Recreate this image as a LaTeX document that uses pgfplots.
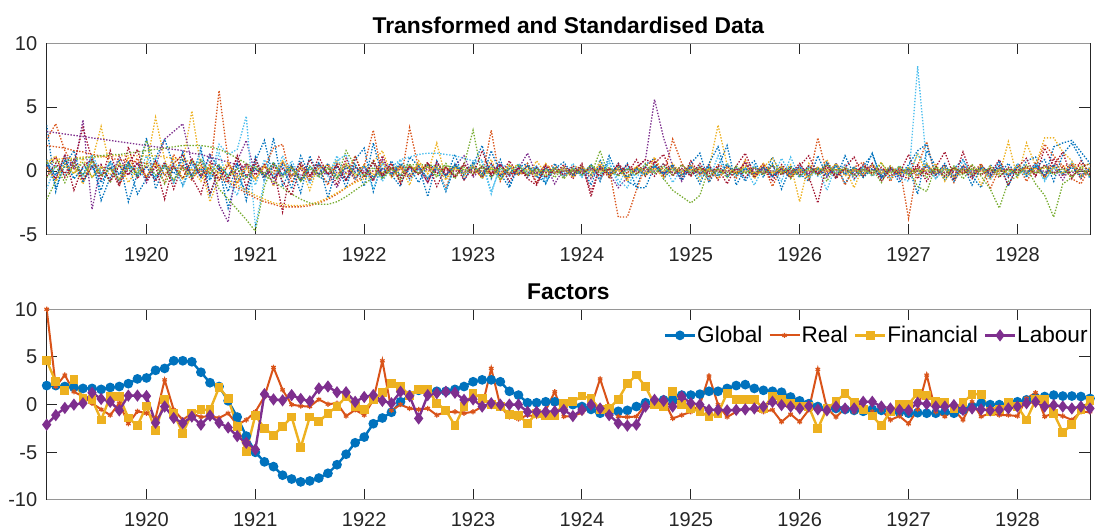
\documentclass[border=0pt]{standalone}
\usepackage{fontspec}
\setmainfont{Liberation Sans}
\usepackage{pgfplots}
\usepackage{pgfplotstable}
\pgfplotsset{compat=1.18}
\definecolor{mB}{RGB}{0,114,189}
\definecolor{mO}{RGB}{217,83,25}
\definecolor{mY}{RGB}{237,177,32}
\definecolor{mP}{RGB}{126,47,142}
\definecolor{mG}{RGB}{119,172,48}
\definecolor{mL}{RGB}{77,190,238}
\definecolor{mR}{RGB}{162,20,47}
\definecolor{axgray}{RGB}{38,38,38}
\definecolor{boxgray}{RGB}{150,150,150}

% ---------- top panel series (monthly, Feb 1919 - Sep 1928) ----------
\pgfplotstableread[header=false,row sep=\\]{
3.6\\ -1.6\\ 0.8\\ 0.4\\ -0.3\\ 1.2\\ -2.3\\ -0.5\\ 0.9\\ -2.4\\ -0.2\\
2.6\\ -1.4\\ 0.4\\ -0.9\\ 1.5\\ -0.6\\ 1.8\\ -1.9\\ 0.2\\ -2.9\\ -0.4\\ -1.6\\
1.1\\ -0.8\\ 2.6\\ -1.2\\ 0.3\\ -1.7\\ 1.2\\ -0.4\\ -0.9\\ 0.6\\ -1.3\\ 0.9\\
1.8\\ -1.6\\ 0.7\\ -0.3\\ -1.2\\ 1.1\\ 0.4\\ -2.0\\ 0.8\\ -0.5\\ 1.3\\ -0.7\\
0.5\\ 2.0\\ -0.6\\ 0.9\\ -1.1\\ 0.3\\ 0.6\\ -0.4\\ -0.9\\ 0.2\\ 0.7\\ -0.3\\
0.4\\ -1.1\\ 0.9\\ -0.5\\ 0.6\\ -0.8\\ -1.2\\ 0.5\\ 1.0\\ -0.6\\ 0.3\\ -0.4\\
0.6\\ 1.4\\ -0.9\\ 0.3\\ 2.0\\ -1.1\\ 0.2\\ 0.8\\ -0.5\\ 1.1\\ -0.3\\ 0.4\\
-0.2\\ -0.8\\ 1.2\\ -0.4\\ 0.6\\ -1.0\\ 0.3\\ -0.2\\ 1.4\\ -0.6\\ 0.2\\ -0.9\\
0.3\\ -1.8\\ 1.6\\ 0.4\\ -0.7\\ 0.2\\ 0.9\\ -0.4\\ -1.3\\ 0.5\\ -0.2\\ 0.6\\
-0.4\\ 0.8\\ 1.1\\ -0.6\\ 1.9\\ 2.2\\ 2.4\\ 1.5\\ 0.6\\
}\sA
\pgfplotstableread[header=false,row sep=\\]{
2.5\\ 3.7\\ 1.6\\ 0.4\\ -0.8\\ 0.9\\ -0.3\\ 0.6\\ -1.1\\ 0.2\\ 1.0\\
-0.5\\ 0.7\\ -0.9\\ 1.3\\ 0.1\\ -0.7\\ 0.4\\ -0.2\\ 6.3\\ 0.8\\ -1.0\\ 0.5\\
-0.6\\ 0.3\\ 1.8\\ 2.1\\ -0.9\\ 0.5\\ -0.4\\ 0.2\\ -1.1\\ 0.6\\ 0.3\\ -0.7\\
0.4\\ 3.2\\ -0.4\\ 0.6\\ -0.9\\ 3.4\\ 0.2\\ -0.6\\ 0.3\\ -1.3\\ 0.5\\ -0.2\\
0.3\\ -0.5\\ 3.2\\ -0.8\\ 0.4\\ -0.3\\ 0.6\\ -0.9\\ 0.2\\ 0.5\\ -0.4\\ 0.1\\
-0.3\\ 0.5\\ -0.6\\ 0.2\\ -3.6\\ -3.6\\ -1.5\\ 0.4\\ 0.9\\ -0.5\\ 2.5\\ 0.6\\
-0.4\\ 0.3\\ -0.8\\ 0.5\\ 0.2\\ -0.6\\ 0.9\\ -0.3\\ 0.4\\ -1.2\\ 0.3\\ -0.5\\
0.2\\ -0.7\\ 2.6\\ -0.2\\ 0.5\\ -1.1\\ 0.3\\ 0.7\\ -0.4\\ 0.2\\ -0.8\\ 0.4\\
-3.7\\ 0.4\\ 2.3\\ -0.6\\ 0.3\\ -0.9\\ 0.5\\ -0.2\\ 0.6\\ -1.4\\ 0.2\\ -0.3\\
0.5\\ -0.8\\ 0.3\\ 2.1\\ 1.2\\ 0.4\\ -0.6\\ -1.0\\ 0.3\\
}\sB
\pgfplotstableread[header=false,row sep=\\]{
0.6\\ 1.2\\ -0.4\\ 0.3\\ -1.0\\ 0.8\\ 3.5\\ 0.2\\ -0.6\\ 1.1\\ -0.3\\
0.5\\ 4.2\\ 0.9\\ -0.8\\ 0.6\\ 4.7\\ 0.3\\ -2.4\\ -0.5\\ 0.4\\ -0.9\\ 0.2\\
-0.7\\ 0.5\\ -1.2\\ 0.8\\ -0.4\\ 0.3\\ -1.5\\ 0.6\\ -0.2\\ 0.9\\ -0.3\\ 1.2\\
-0.5\\ 0.7\\ 1.6\\ -0.3\\ 0.4\\ -1.1\\ 0.8\\ -0.2\\ 2.2\\ -0.6\\ 0.3\\ -0.4\\
0.6\\ -0.3\\ 0.9\\ -0.7\\ 0.2\\ 0.5\\ -0.4\\ 0.8\\ -0.2\\ 0.3\\ -0.6\\ 0.4\\
0.2\\ -0.5\\ 0.7\\ -0.3\\ 0.4\\ -0.8\\ 0.3\\ -0.4\\ 1.1\\ -0.2\\ 0.6\\ -0.3\\
0.4\\ -0.7\\ 0.2\\ 3.6\\ 0.5\\ -0.4\\ 0.8\\ -0.6\\ 0.3\\ 1.0\\ -0.2\\ 0.5\\
-2.4\\ 0.6\\ -0.3\\ 0.9\\ -0.5\\ 0.2\\ -1.3\\ 0.4\\ -0.2\\ 0.7\\ -0.6\\ 0.3\\
-0.5\\ 1.4\\ -0.3\\ 0.6\\ -0.8\\ 0.3\\ -0.2\\ 0.5\\ -1.1\\ 0.4\\ -0.3\\ 2.3\\
-0.6\\ 2.2\\ 0.4\\ 2.6\\ 2.6\\ 1.5\\ 0.8\\ -0.5\\ 0.2\\
}\sC
\pgfplotstableread[header=false,row sep=\\]{
0.4\\ -0.6\\ 1.3\\ 0.2\\ 4.0\\ -3.0\\ 0.5\\ -0.8\\ 1.2\\ -0.3\\ 0.7\\
-0.9\\ 0.4\\ 2.5\\ 3.1\\ 3.7\\ 0.6\\ -0.5\\ 1.4\\ -2.6\\ -4.0\\ 0.8\\ 2.4\\
-0.3\\ 0.5\\ -1.1\\ 0.7\\ -0.4\\ 0.2\\ -0.8\\ 0.6\\ -0.2\\ -1.3\\ 0.4\\ -0.6\\
0.3\\ -0.7\\ 0.9\\ -0.2\\ 0.5\\ -0.4\\ 0.2\\ -0.9\\ 0.6\\ -0.3\\ 0.4\\ 1.2\\
-0.5\\ 0.3\\ -0.2\\ 0.6\\ -0.4\\ 0.2\\ 1.4\\ -0.3\\ 0.5\\ -1.0\\ 0.2\\ -0.4\\
0.3\\ -0.6\\ 0.4\\ -0.2\\ -1.3\\ -0.5\\ 0.2\\ 0.9\\ 5.6\\ 2.6\\ 0.4\\ -0.8\\
0.5\\ -0.3\\ 0.2\\ -0.6\\ 0.4\\ -0.2\\ 0.7\\ -0.4\\ 0.3\\ -0.5\\ 0.2\\ -0.3\\
0.4\\ -0.2\\ 0.3\\ -0.5\\ 0.6\\ -0.3\\ 0.2\\ -0.4\\ 0.5\\ -0.2\\ 0.3\\ -0.6\\
0.2\\ -0.4\\ 0.5\\ -0.3\\ 0.2\\ -0.6\\ 0.4\\ -0.2\\ 0.3\\ -0.5\\ 0.2\\ -0.3\\
0.4\\ -0.2\\ 0.6\\ -0.4\\ 0.3\\ -0.7\\ 0.5\\ -0.3\\ 0.2\\
}\sD
\pgfplotstableread[header=false,row sep=\\]{
-2.2\\ -0.8\\ 0.4\\ -0.2\\ 0.7\\ -0.5\\ 0.3\\ -0.9\\ 0.6\\ 0.1\\ -0.4\\
2.4\\ 0.5\\ -1.0\\ 0.3\\ -0.6\\ 0.9\\ -0.2\\ 0.4\\ -1.4\\ -2.2\\ -3.0\\ -3.8\\
-4.7\\ -1.2\\ 0.6\\ -0.3\\ 0.4\\ -0.8\\ 0.2\\ -0.5\\ 0.3\\ -0.6\\ 1.6\\ 0.4\\
-0.3\\ 0.8\\ -0.5\\ 0.2\\ -0.7\\ 0.4\\ -0.2\\ 0.6\\ -0.4\\ 0.3\\ -0.6\\ 0.5\\
3.2\\ -0.4\\ 0.3\\ -0.7\\ 0.5\\ -0.2\\ 0.4\\ -0.3\\ 0.2\\ -0.5\\ 0.3\\ -0.2\\
0.4\\ -0.3\\ 1.6\\ -0.5\\ 0.2\\ -0.4\\ 0.3\\ -0.2\\ 0.5\\ -0.6\\ -1.5\\ -2.0\\
-2.5\\ -1.9\\ 0.3\\ -0.4\\ 0.6\\ -0.2\\ 0.3\\ -0.5\\ 0.2\\ -0.3\\ 0.4\\ -0.6\\
0.2\\ -0.4\\ 0.3\\ -0.8\\ 0.5\\ -0.2\\ 0.3\\ -0.5\\ 0.2\\ -0.9\\ 0.4\\ -0.3\\
0.2\\ -1.2\\ -1.6\\ 0.4\\ -0.5\\ 0.3\\ -0.6\\ 0.2\\ -0.4\\ -1.4\\ -2.9\\ -0.8\\
-0.4\\ 0.3\\ -1.0\\ -1.9\\ -3.6\\ -1.0\\ -0.5\\ 0.3\\ 0.6\\
}\sE
\pgfplotstableread[header=false,row sep=\\]{
0.8\\ -0.4\\ 1.1\\ -0.6\\ 0.3\\ 0.9\\ -0.2\\ 0.6\\ -0.8\\ 0.4\\ -0.3\\
1.2\\ -0.5\\ 0.7\\ -0.9\\ 0.4\\ -0.3\\ 1.5\\ -0.6\\ 2.1\\ 1.3\\ 1.7\\ 4.3\\
-4.4\\ -0.7\\ 0.5\\ -0.3\\ 0.8\\ -0.5\\ 0.2\\ 0.6\\ -0.4\\ 1.2\\ -0.6\\ 0.3\\
-0.4\\ 0.6\\ -0.8\\ 0.3\\ 0.9\\ 1.1\\ 1.3\\ 1.4\\ 1.4\\ 1.3\\ 1.2\\ 1.0\\
0.8\\ 0.7\\ -1.8\\ 0.5\\ 0.3\\ 0.1\\ -0.3\\ 0.4\\ -0.6\\ 0.2\\ -0.2\\ 0.3\\
-0.5\\ 0.4\\ -0.3\\ 0.6\\ -0.7\\ -1.3\\ 0.2\\ -0.4\\ 0.5\\ -0.3\\ 0.2\\ -0.6\\
0.3\\ -0.5\\ 0.4\\ -0.2\\ 0.6\\ -0.4\\ 0.2\\ -1.1\\ 0.3\\ -0.5\\ 1.0\\ -0.3\\
0.4\\ -0.6\\ 0.2\\ -1.5\\ 0.5\\ -0.3\\ 0.2\\ -0.4\\ 0.6\\ -0.2\\ 0.3\\ -0.5\\
-0.8\\ 8.2\\ 0.5\\ -0.6\\ 0.3\\ -0.4\\ 0.2\\ -0.5\\ 0.4\\ -0.3\\ 0.6\\ -0.2\\
0.3\\ -0.5\\ 0.4\\ -0.7\\ 0.2\\ -0.3\\ 0.5\\ -0.4\\ 0.2\\
}\sF
\pgfplotstableread[header=false,row sep=\\]{
0.2\\ 1.1\\ -0.5\\ 0.6\\ 3.4\\ 0.9\\ -0.4\\ 0.3\\ -1.2\\ 1.9\\ -0.6\\
0.4\\ -0.8\\ 0.7\\ -1.4\\ 0.5\\ -0.3\\ 0.8\\ -1.8\\ 0.3\\ -0.6\\ 1.1\\ -0.4\\
0.6\\ -0.5\\ 0.3\\ -3.2\\ 0.4\\ -0.7\\ 0.9\\ -0.3\\ 0.5\\ -1.1\\ 1.0\\ -0.6\\
0.5\\ -0.8\\ 1.2\\ -0.4\\ 0.3\\ -0.6\\ 0.4\\ -0.9\\ 0.7\\ -0.3\\ 0.5\\ -0.7\\
0.3\\ -0.5\\ 0.6\\ -0.4\\ 0.8\\ -0.3\\ 0.4\\ -1.0\\ 0.5\\ -0.2\\ 0.3\\ -0.6\\
0.4\\ -1.6\\ 0.3\\ -0.5\\ 0.6\\ -0.2\\ 0.9\\ -0.4\\ 0.7\\ -0.3\\ 0.5\\ -0.6\\
0.8\\ -0.3\\ 0.5\\ -0.7\\ 0.4\\ -0.2\\ 0.6\\ -0.5\\ 0.3\\ -0.8\\ 0.5\\ -0.2\\
0.6\\ -0.4\\ -2.5\\ 0.7\\ -0.3\\ 0.5\\ -0.6\\ 0.2\\ 0.4\\ -0.5\\ 0.3\\ -0.2\\
1.3\\ -0.6\\ 0.4\\ -0.3\\ 0.5\\ -0.7\\ 1.5\\ -0.4\\ 0.3\\ -0.2\\ 0.9\\ -0.5\\
0.4\\ -0.3\\ 0.6\\ -0.5\\ 1.0\\ -0.4\\ 0.5\\ -0.6\\ 0.3\\
}\sG
\pgfplotstableread[header=false,row sep=\\]{
0.9\\ -1.3\\ 0.5\\ 1.6\\ -0.9\\ 0.4\\ -1.5\\ 0.8\\ -0.3\\ 0.6\\ -1.8\\
-0.6\\ 1.0\\ 2.5\\ 0.4\\ -1.1\\ 0.7\\ -0.5\\ 1.2\\ 0.3\\ -1.6\\ 0.5\\ -2.3\\
0.8\\ 2.4\\ -0.6\\ 0.5\\ -1.4\\ 1.2\\ -0.3\\ 0.7\\ -2.1\\ 0.4\\ -0.8\\ 0.6\\
-1.2\\ 2.2\\ -0.5\\ 0.8\\ -0.4\\ 0.3\\ -0.9\\ 0.5\\ 0.2\\ -1.6\\ 0.4\\ -0.3\\
0.7\\ -0.6\\ 1.6\\ -0.2\\ -1.3\\ 0.4\\ -0.5\\ 0.3\\ -1.0\\ 0.6\\ -0.4\\ 0.2\\
-0.3\\ 0.5\\ -0.8\\ 1.2\\ -0.4\\ 0.6\\ -1.3\\ -1.3\\ 0.4\\ -0.2\\ 0.5\\ -0.7\\
0.3\\ -1.0\\ 0.6\\ 1.9\\ -0.5\\ 0.3\\ -0.8\\ 0.4\\ -0.2\\ 0.6\\ -1.4\\ 0.3\\
-0.5\\ 0.4\\ -0.2\\ 0.7\\ -0.6\\ 1.2\\ -0.3\\ 0.4\\ 1.3\\ -0.5\\ 0.2\\ -0.4\\
0.5\\ 1.6\\ 2.1\\ -0.3\\ 0.6\\ -0.8\\ 0.4\\ -1.1\\ 0.3\\ -0.5\\ 0.8\\ -1.2\\
0.6\\ -0.4\\ 0.3\\ 0.9\\ -0.8\\ 1.3\\ 2.2\\ 1.0\\ -0.6\\
}\sH
\pgfplotstableread[header=false,row sep=\\]{
2.0\\ 1.9\\ 1.8\\ 1.6\\ 1.5\\ 1.3\\ 1.2\\ 1.0\\ 0.9\\ 0.8\\ 0.7\\
0.6\\ 0.5\\ 0.4\\ 0.3\\ 0.2\\ 0.1\\ 0.0\\ -0.2\\ -0.5\\ -0.9\\ -1.3\\ -1.7\\
-2.1\\ -2.4\\ -2.6\\ -2.8\\ -2.8\\ -2.8\\ -2.7\\ -2.5\\ -2.2\\ -1.8\\ -1.3\\ -0.8\\
-0.4\\ 0.0\\ 0.2\\ 0.3\\ 0.3\\ 0.3\\ 0.2\\ 0.2\\ 0.1\\ 0.1\\ 0.0\\ 0.0\\
-0.1\\ -0.1\\ -0.1\\ -0.2\\ -0.2\\ -0.2\\ -0.2\\ -0.1\\ -0.1\\ -0.1\\ 0.0\\ 0.0\\
0.0\\ 0.1\\ 0.1\\ 0.1\\ 0.1\\ 0.2\\ 0.2\\ 0.2\\ 0.2\\ 0.2\\ 0.2\\ 0.1\\
0.1\\ 0.1\\ 0.1\\ 0.0\\ 0.0\\ 0.0\\ -0.1\\ -0.1\\ -0.1\\ -0.1\\ -0.1\\ -0.1\\
-0.1\\ 0.0\\ 0.0\\ 0.0\\ 0.1\\ 0.1\\ 0.1\\ 0.1\\ 0.1\\ 0.1\\ 0.1\\ 0.0\\
0.0\\ 0.0\\ 0.0\\ 0.0\\ -0.1\\ -0.1\\ -0.1\\ -0.1\\ 0.0\\ 0.0\\ 0.0\\ 0.1\\
0.1\\ 0.2\\ 0.2\\ 0.3\\ 0.4\\ 0.4\\ 0.5\\ 0.5\\ 0.5\\
}\sI
\pgfplotstableread[header=false,row sep=\\]{
0.8\\ 0.9\\ 1.0\\ 1.0\\ 1.1\\ 1.1\\ 1.1\\ 1.2\\ 1.2\\ 1.2\\ 1.2\\
1.2\\ 1.2\\ 1.1\\ 1.0\\ 0.9\\ 0.7\\ 0.4\\ 0.1\\ -0.3\\ -0.7\\ -1.1\\ -1.5\\
-1.9\\ -2.2\\ -2.5\\ -2.6\\ -2.7\\ -2.7\\ -2.6\\ -2.4\\ -2.1\\ -1.7\\ -1.3\\ -0.9\\
-0.6\\ -0.3\\ -0.1\\ 0.1\\ 0.2\\ 0.3\\ 0.3\\ 0.3\\ 0.2\\ 0.2\\ 0.1\\ 0.1\\
0.0\\ 0.0\\ -0.1\\ -0.1\\ -0.1\\ -0.1\\ 0.0\\ 0.0\\ 0.0\\ 0.1\\ 0.1\\ 0.1\\
0.1\\ 0.1\\ 0.0\\ 0.0\\ 0.0\\ -0.1\\ -0.1\\ -0.1\\ -0.1\\ 0.0\\ 0.0\\ 0.0\\
0.1\\ 0.1\\ 0.1\\ 0.1\\ 0.0\\ 0.0\\ 0.0\\ -0.1\\ -0.1\\ -0.1\\ 0.0\\ 0.0\\
0.0\\ 0.1\\ 0.1\\ 0.1\\ 0.1\\ 0.0\\ 0.0\\ 0.0\\ -0.1\\ -0.1\\ -0.1\\ 0.0\\
0.0\\ 0.0\\ 0.1\\ 0.1\\ 0.1\\ 0.1\\ 0.0\\ 0.0\\ 0.0\\ 0.0\\ 0.1\\ 0.1\\
0.1\\ 0.2\\ 0.2\\ 0.2\\ 0.3\\ 0.3\\ 0.3\\ 0.3\\ 0.2\\
}\sJ
\pgfplotstableread[header=false,row sep=\\]{
3.1\\ 3.0\\ 2.9\\ 2.8\\ 2.7\\ 2.6\\ 2.5\\ 2.4\\ 2.3\\ 2.2\\ 2.1\\
2.0\\ 1.9\\ 1.8\\ 1.7\\ 1.6\\ 1.4\\ 1.3\\ 1.1\\ 0.9\\ 0.7\\ 0.5\\ 0.3\\
0.1\\ -0.1\\ -0.2\\ -0.3\\ -0.3\\ -0.3\\ -0.3\\ -0.2\\ -0.2\\ -0.1\\ -0.1\\ 0.0\\
0.0\\ 0.0\\ 0.1\\ 0.1\\ 0.1\\ 0.1\\ 0.1\\ 0.1\\ 0.0\\ 0.0\\ 0.0\\ 0.0\\
0.0\\ 0.0\\ 0.0\\ 0.0\\ -0.1\\ -0.1\\ -0.1\\ -0.1\\ -0.1\\ -0.1\\ 0.0\\ 0.0\\
0.0\\ 0.1\\ 0.1\\ 0.1\\ 0.1\\ 0.1\\ 0.0\\ 0.0\\ 0.0\\ -0.1\\ -0.1\\ -0.1\\
-0.1\\ -0.1\\ 0.0\\ 0.0\\ 0.0\\ 0.1\\ 0.1\\ 0.1\\ 0.1\\ 0.0\\ 0.0\\ 0.0\\
0.0\\ -0.1\\ -0.1\\ -0.1\\ 0.0\\ 0.0\\ 0.0\\ 0.1\\ 0.1\\ 0.1\\ 0.0\\ 0.0\\
0.0\\ 0.0\\ -0.1\\ -0.1\\ -0.1\\ 0.0\\ 0.0\\ 0.0\\ 0.1\\ 0.1\\ 0.1\\ 0.1\\
0.1\\ 0.0\\ 0.0\\ 0.0\\ -0.1\\ -0.1\\ -0.1\\ 0.0\\ 0.0\\
}\sK
\pgfplotstableread[header=false,row sep=\\]{
0.6\\ 0.7\\ 0.8\\ 0.9\\ 1.0\\ 1.1\\ 1.2\\ 1.3\\ 1.3\\ 1.4\\ 1.5\\
1.6\\ 1.7\\ 1.8\\ 1.9\\ 2.0\\ 2.0\\ 2.0\\ 1.9\\ 1.7\\ 1.4\\ 1.0\\ 0.6\\
0.2\\ -0.3\\ -0.8\\ -1.3\\ -1.8\\ -2.2\\ -2.5\\ -2.6\\ -2.6\\ -2.4\\ -2.0\\ -1.5\\
-1.0\\ -0.5\\ -0.1\\ 0.2\\ 0.4\\ 0.5\\ 0.5\\ 0.5\\ 0.4\\ 0.4\\ 0.3\\ 0.3\\
0.2\\ 0.2\\ 0.1\\ 0.1\\ 0.1\\ 0.0\\ 0.0\\ 0.0\\ 0.0\\ 0.0\\ 0.0\\ 0.0\\
0.0\\ 0.0\\ 0.1\\ 0.1\\ 0.1\\ 0.1\\ 0.1\\ 0.1\\ 0.1\\ 0.1\\ 0.1\\ 0.0\\
0.0\\ 0.0\\ 0.0\\ -0.1\\ -0.1\\ -0.1\\ -0.1\\ -0.1\\ 0.0\\ 0.0\\ 0.0\\ 0.0\\
0.0\\ 0.1\\ 0.1\\ 0.1\\ 0.1\\ 0.1\\ 0.0\\ 0.0\\ 0.0\\ 0.0\\ 0.0\\ 0.0\\
0.0\\ 0.0\\ 0.0\\ 0.0\\ 0.1\\ 0.1\\ 0.1\\ 0.1\\ 0.1\\ 0.1\\ 0.0\\ 0.0\\
0.0\\ 0.0\\ -0.1\\ -0.1\\ -0.1\\ -0.1\\ 0.0\\ 0.0\\ 0.0\\
}\sL
\pgfplotstableread[header=false,row sep=\\]{
-1.4\\ 0.5\\ -0.3\\ 0.9\\ -0.6\\ 1.3\\ -0.2\\ 0.7\\ -0.9\\ 0.4\\ 0.2\\
-0.7\\ 1.1\\ -0.4\\ 0.6\\ -1.2\\ 0.3\\ 0.8\\ -0.5\\ 1.4\\ -0.8\\ -1.9\\ 0.5\\
-1.1\\ 0.9\\ -0.6\\ 1.2\\ -0.4\\ 0.7\\ -1.0\\ 0.5\\ -0.3\\ 0.8\\ 1.3\\ -0.6\\
0.4\\ -1.4\\ 0.6\\ -0.3\\ 0.9\\ -0.7\\ 0.2\\ -0.5\\ 0.4\\ -1.5\\ 0.6\\ -0.2\\
0.5\\ 0.9\\ -1.6\\ 0.3\\ -0.4\\ 0.6\\ -0.2\\ 0.4\\ -0.8\\ 0.3\\ -0.5\\ 0.6\\
-0.4\\ 0.2\\ -0.6\\ 0.8\\ -1.1\\ 0.3\\ -0.5\\ 0.4\\ -0.2\\ 0.6\\ -0.9\\ 0.2\\
-0.3\\ 0.5\\ -0.7\\ 1.2\\ -0.4\\ 0.3\\ -0.6\\ 0.5\\ -0.2\\ 0.4\\ -0.8\\ 1.1\\
-0.5\\ 0.3\\ -0.4\\ 0.6\\ -0.2\\ 0.5\\ -0.7\\ 0.3\\ -0.4\\ 0.2\\ -0.6\\ 0.4\\
-0.3\\ 1.3\\ 0.4\\ -0.6\\ 0.3\\ -0.5\\ 0.8\\ -0.2\\ 0.4\\ -0.7\\ 0.3\\ -0.4\\
0.5\\ -0.3\\ 0.6\\ -0.8\\ 0.4\\ -0.2\\ 0.7\\ -0.5\\ 0.3\\
}\sM
\pgfplotstableread[header=false,row sep=\\]{
0.3\\ -0.6\\ 1.2\\ -1.5\\ 0.4\\ 0.9\\ -0.7\\ 1.6\\ -1.0\\ 0.5\\ 1.7\\
-0.8\\ 0.4\\ -2.2\\ 0.6\\ 1.3\\ -0.5\\ -1.8\\ 0.7\\ 0.3\\ -0.9\\ 1.2\\ -1.3\\
0.9\\ -0.4\\ 0.6\\ -0.8\\ -1.9\\ 0.4\\ -0.6\\ 1.1\\ -0.3\\ 0.5\\ -0.8\\ 1.1\\
-0.5\\ 0.8\\ -0.3\\ 0.6\\ -1.0\\ 0.4\\ -0.2\\ 0.7\\ -1.2\\ 0.3\\ -0.5\\ 0.6\\
-0.3\\ 1.6\\ -0.4\\ 0.5\\ -0.8\\ 0.3\\ -0.6\\ -1.1\\ 0.4\\ -0.2\\ 0.5\\ -0.3\\
0.6\\ -2.0\\ 0.4\\ -0.3\\ 0.5\\ -0.6\\ 0.3\\ 0.9\\ 0.6\\ 1.3\\ -0.4\\ 0.5\\
-0.3\\ 0.6\\ -0.5\\ 0.2\\ -1.0\\ 0.4\\ 1.4\\ -0.3\\ 0.6\\ -0.4\\ 0.2\\ -0.5\\
0.4\\ 1.2\\ -0.3\\ 0.5\\ -0.6\\ 0.3\\ 1.1\\ -0.4\\ 0.6\\ -0.8\\ 0.2\\ -0.3\\
-0.6\\ 0.4\\ -0.8\\ 0.3\\ 1.5\\ -0.4\\ 0.2\\ -0.6\\ 0.5\\ -0.3\\ 0.4\\ -1.1\\
0.3\\ 1.0\\ -0.5\\ 1.8\\ 0.4\\ 1.5\\ -0.6\\ 0.8\\ -0.2\\
}\sN
\pgfplotstableread[header=false,row sep=\\]{
0.5\\ -0.3\\ 0.8\\ -0.6\\ 0.2\\ 0.4\\ -0.9\\ 0.3\\ -0.2\\ 0.7\\ -0.4\\
0.3\\ -0.6\\ 0.5\\ -0.2\\ 0.9\\ -0.4\\ 0.2\\ -0.7\\ 0.4\\ -0.3\\ 0.6\\ -0.5\\
0.2\\ -0.4\\ 0.7\\ -0.3\\ 0.5\\ -0.8\\ 0.3\\ -0.2\\ 0.6\\ -0.5\\ 0.3\\ -0.1\\
0.4\\ -0.5\\ 0.2\\ -0.3\\ 0.6\\ -0.2\\ 0.4\\ -0.6\\ 0.3\\ -0.4\\ 0.5\\ -0.2\\
0.3\\ -0.2\\ 0.5\\ -0.4\\ 0.2\\ -0.3\\ 0.4\\ -0.5\\ 0.2\\ -0.2\\ 0.3\\ -0.4\\
0.2\\ -0.3\\ 0.4\\ -0.2\\ 0.3\\ -0.5\\ 0.2\\ -0.3\\ 0.4\\ -0.2\\ 0.3\\ -0.3\\
0.4\\ -0.2\\ 0.3\\ -0.4\\ 0.5\\ -0.3\\ 0.2\\ -0.2\\ 0.3\\ -0.4\\ 0.2\\ -0.3\\
0.3\\ -0.4\\ 0.2\\ -0.3\\ 0.4\\ -0.2\\ 0.3\\ -0.5\\ 0.2\\ -0.3\\ 0.4\\ -0.2\\
0.2\\ -0.3\\ 0.5\\ -0.2\\ 0.3\\ -0.4\\ 0.2\\ -0.3\\ 0.4\\ -0.2\\ 0.3\\ -0.4\\
0.3\\ -0.2\\ 0.4\\ -0.3\\ 0.5\\ -0.2\\ 0.3\\ -0.4\\ 0.2\\
}\sO
\pgfplotstableread[header=false,row sep=\\]{
-0.4\\ 0.6\\ -0.2\\ 0.9\\ -0.7\\ 0.3\\ 0.5\\ -0.8\\ 0.4\\ -0.3\\ 0.6\\
-0.5\\ 0.8\\ -0.3\\ 0.4\\ -0.6\\ 1.0\\ -0.4\\ 0.3\\ -0.7\\ 0.5\\ -0.2\\ 0.6\\
-0.3\\ 0.5\\ -0.6\\ 0.2\\ -0.4\\ 0.7\\ -0.3\\ 0.5\\ -0.2\\ 0.4\\ -0.6\\ 0.3\\
-0.2\\ 0.6\\ -0.4\\ 0.3\\ -0.5\\ 0.4\\ -0.3\\ 0.6\\ -0.2\\ 0.3\\ -0.4\\ 0.5\\
-0.3\\ 0.4\\ -0.2\\ 0.5\\ -0.3\\ 0.2\\ -0.4\\ 0.3\\ -0.5\\ 0.2\\ -0.3\\ 0.4\\
-0.2\\ 0.3\\ -0.4\\ 0.2\\ -0.3\\ 0.5\\ -0.2\\ 0.3\\ -0.4\\ 0.6\\ -0.3\\ 0.2\\
-0.4\\ 0.3\\ -0.2\\ 0.4\\ -0.3\\ 0.2\\ -0.5\\ 0.3\\ -0.2\\ 0.4\\ -0.3\\ 0.2\\
-0.3\\ 0.4\\ -0.2\\ 0.3\\ -0.4\\ 0.2\\ -0.3\\ 0.5\\ -0.2\\ 0.3\\ -0.4\\ 0.2\\
-0.2\\ 0.5\\ -0.3\\ 0.2\\ -0.4\\ 0.3\\ -0.2\\ 0.4\\ -0.3\\ 0.2\\ -0.5\\ 0.3\\
-0.2\\ 0.4\\ -0.3\\ 0.5\\ -0.2\\ 0.3\\ -0.4\\ 0.2\\ -0.3\\
}\sP
\pgfplotstableread[header=false,row sep=\\]{
0.3\\ -0.8\\ 0.6\\ -0.2\\ 1.0\\ -0.5\\ 0.4\\ -0.3\\ 0.7\\ -0.9\\ 0.2\\
-0.4\\ 0.6\\ -0.3\\ 0.9\\ -0.6\\ 0.2\\ -0.8\\ 0.5\\ -0.2\\ 0.7\\ -0.5\\ 0.3\\
-0.6\\ 0.4\\ -0.2\\ 0.8\\ -0.4\\ 0.3\\ -0.7\\ 0.2\\ 0.5\\ -0.3\\ 0.6\\ -0.4\\
0.5\\ -0.3\\ 0.7\\ -0.5\\ 0.2\\ -0.4\\ 0.6\\ -0.2\\ 0.4\\ -0.7\\ 0.3\\ -0.2\\
0.4\\ -0.6\\ 0.3\\ -0.2\\ 0.5\\ -0.3\\ 0.2\\ -0.4\\ 0.6\\ -0.2\\ 0.3\\ -0.5\\
0.3\\ -0.2\\ 0.5\\ -0.4\\ 0.2\\ -0.6\\ 0.4\\ -0.3\\ 0.2\\ -0.5\\ 0.3\\ -0.2\\
0.5\\ -0.3\\ 0.2\\ -0.6\\ 0.3\\ -0.2\\ 0.4\\ -0.3\\ 0.6\\ -0.2\\ 0.3\\ -0.4\\
0.2\\ -0.5\\ 0.3\\ -0.2\\ 0.6\\ -0.4\\ 0.2\\ -0.3\\ 0.5\\ -0.2\\ 0.4\\ -0.3\\
0.3\\ -0.4\\ 0.6\\ -0.2\\ 0.3\\ -0.5\\ 0.2\\ -0.3\\ 0.4\\ -0.6\\ 0.2\\ -0.2\\
0.4\\ -0.3\\ 0.2\\ -0.5\\ 0.3\\ -0.2\\ 0.6\\ -0.4\\ 0.2\\
}\sQ
\pgfplotstableread[header=false,row sep=\\]{
-0.5\\ 0.4\\ -0.9\\ 0.6\\ -0.3\\ 0.8\\ -0.4\\ 0.2\\ -0.7\\ 0.5\\ -0.2\\
0.6\\ -0.3\\ 0.4\\ -0.7\\ 0.3\\ -0.5\\ 0.9\\ -0.2\\ 0.5\\ -0.4\\ 0.2\\ -0.6\\
0.4\\ -0.2\\ 0.6\\ -0.5\\ 0.3\\ -0.8\\ 0.4\\ -0.3\\ 0.2\\ -0.6\\ 0.5\\ -0.2\\
-0.4\\ 0.3\\ -0.6\\ 0.2\\ -0.3\\ 0.5\\ -0.2\\ 0.4\\ -0.5\\ 0.6\\ -0.3\\ 0.2\\
-0.2\\ 0.4\\ -0.5\\ 0.3\\ -0.2\\ 0.5\\ -0.3\\ 0.2\\ -0.4\\ 0.3\\ -0.6\\ 0.2\\
-0.3\\ 0.5\\ -0.2\\ 0.3\\ -0.4\\ 0.2\\ -0.3\\ 0.6\\ -0.2\\ 0.4\\ -0.3\\ 0.5\\
-0.2\\ 0.3\\ -0.4\\ 0.2\\ -0.5\\ 0.4\\ -0.2\\ 0.3\\ -0.3\\ 0.5\\ -0.2\\ 0.3\\
-0.4\\ 0.2\\ -0.3\\ 0.5\\ -0.2\\ 0.3\\ -0.4\\ 0.2\\ -0.3\\ 0.6\\ -0.2\\ 0.4\\
-0.3\\ 0.2\\ -0.5\\ 0.3\\ -0.2\\ 0.4\\ -0.3\\ 0.5\\ -0.2\\ 0.3\\ -0.4\\ 0.2\\
-0.3\\ 0.5\\ -0.2\\ 0.4\\ -0.3\\ 0.2\\ -0.5\\ 0.3\\ -0.4\\
}\sR

% ---------- factors ----------
\pgfplotstableread{
G R F L
2.0 10.0 4.6 -2.1
2.0 1.9 2.4 -1.1
1.9 3.1 1.45 -0.35
1.8 1.35 2.6 0.0
1.7 0.85 0.65 0.15
1.7 0.15 0.55 1.25
1.6 -0.5 -1.6 0.6
1.8 -1.1 0.85 0.3
1.9 0.15 0.85 -0.6
2.2 -2.0 -1.4 0.95
2.7 -0.7 -2.2 0.95
2.8 -0.9 -0.15 0.9
3.6 -1.4 -2.75 -1.9
3.8 2.6 0.55 -0.2
4.6 -0.55 -0.9 -1.4
4.6 -1.6 -3.0 -1.95
4.5 -0.9 -0.9 -1.25
3.4 -1.3 -0.55 -2.1
2.3 -1.2 -0.55 -1.15
1.9 -1.4 1.8 -1.9
0.4 -0.9 0.65 -2.4
-1.3 -2.1 -2.3 -3.3
-3.3 -1.6 -4.9 -4.0
-5.0 -0.75 -1.1 -4.7
-6.0 0.85 -2.5 1.1
-6.5 3.9 -3.2 0.55
-7.4 1.55 -2.3 0.45
-7.8 0.0 -1.3 1.0
-8.1 -0.15 -4.5 0.6
-8.0 -0.2 -1.3 0.35
-7.7 0.55 -1.8 1.7
-7.2 0.05 -0.9 1.9
-6.3 0.15 -0.2 1.3
-5.2 -1.2 0.85 1.3
-4.0 -0.55 -0.2 0.3
-3.4 -1.1 -0.55 0.8
-2.0 0.5 0.5 1.0
-1.4 4.6 1.3 0.4
-0.8 -0.6 2.2 0.15
0.3 0.0 1.9 1.35
1.0 -0.4 1.0 0.9
1.5 -0.5 1.55 -1.45
1.5 -0.4 1.6 1.0
1.4 -1.1 0.15 1.2
1.4 -0.75 -0.6 1.35
1.6 -0.75 -2.2 1.25
1.9 -0.9 -0.2 0.5
2.4 -0.75 1.2 0.55
2.6 -0.2 0.65 -0.2
2.6 3.8 0.0 0.15
2.4 -0.15 -0.2 0.0
1.4 -1.3 -1.0 0.0
1.0 -1.5 -1.1 0.0
0.2 -1.1 -1.95 -0.75
0.2 -1.25 -0.9 -0.75
0.3 -0.6 -1.2 -0.75
0.3 1.35 -1.1 -0.7
0.0 -1.25 0.15 -0.55
0.0 -1.2 0.3 -1.2
-0.2 -0.85 0.9 -0.55
-0.5 -0.2 0.65 0.0
-0.9 2.7 -0.55 -0.4
-0.8 -0.2 -0.4 -1.1
-0.7 -1.25 0.55 -1.95
-0.6 -1.3 2.2 -2.2
-0.2 -1.25 3.1 -2.1
0.2 0.0 1.9 -0.2
0.3 0.5 0.0 0.5
0.5 0.55 -0.2 0.4
0.5 -1.45 1.35 -0.2
1.0 -1.1 0.0 0.85
1.0 -0.75 -0.4 0.15
1.1 0.0 -0.75 0.0
1.4 3.0 -1.25 -0.55
1.4 0.0 -0.9 -0.55
1.7 -1.3 1.2 -0.6
2.0 -0.75 0.55 -0.55
2.1 -0.4 0.5 -0.5
1.7 -0.55 0.55 -0.4
1.5 -0.75 -0.4 -0.2
1.4 -0.55 0.9 0.3
1.3 -1.8 0.5 -0.05
0.8 -1.0 0.15 -0.2
0.4 -1.8 -0.15 -0.4
0.1 -0.55 -0.2 -0.15
-0.2 3.7 -2.5 -0.5
-0.4 -0.4 -0.4 -0.6
-0.4 -1.3 0.3 -0.2
-0.5 -0.4 1.2 -0.4
-0.6 -0.75 0.2 -0.4
-0.7 -0.55 -0.55 0.3
-0.5 -0.75 -1.2 0.3
-0.6 -0.55 -2.2 -0.2
-0.7 -1.6 -0.7 -0.4
-0.8 -1.2 0.0 -0.55
-0.9 -2.0 0.05 -0.6
-0.85 -0.5 1.2 0.2
-0.9 3.1 1.0 0.05
-0.9 -0.75 0.3 -0.2
-0.75 -1.25 0.2 -0.2
-0.9 -0.55 -0.4 -0.05
-0.55 -1.6 0.2 -0.55
-0.2 0.3 1.1 -0.4
0.15 -1.25 1.1 -0.5
0.0 -0.9 -0.75 -0.6
0.0 -1.1 -0.55 -0.55
0.15 -1.1 0.2 -0.4
0.3 -1.2 -0.2 -0.2
0.5 0.65 -1.6 0.15
0.75 1.25 0.5 0.3
0.85 -1.25 0.5 -0.2
1.0 -0.9 -0.9 -0.05
0.9 -1.2 -2.9 -0.2
0.9 -1.6 -2.1 -0.4
0.85 -0.75 -0.55 -0.2
0.65 -0.75 0.4 -0.4
}\fac

\pgfplotsset{
  matax/.style={
    scale only axis, width=521.65pt,
    xmin=0, xmax=115,
    xtick={11,23,35,47,59,71,83,95,107},
    xticklabels={1920,1921,1922,1923,1924,1925,1926,1927,1928},
    separate axis lines,
    x axis line style={draw=boxgray, line width=0.5pt},
    y axis line style={draw=axgray, line width=0.5pt},
    tick style={draw=axgray, line width=0.5pt},
    major tick length=5.3pt,
    tick align=inside,
    xtick pos=both, ytick pos=both,
    ticklabel style={font=\fontsize{10}{12}\selectfont, text=axgray},
    xticklabel style={yshift=-2.7pt},
    yticklabel style={xshift=-1.2pt},
    /pgf/number format/assume math mode=true,
    title style={font=\bfseries\fontsize{11.4}{13}\selectfont, at={(0.5,1)}, anchor=south, yshift=-4.7pt},
  },
  dotline/.style={dash pattern=on 0.7pt off 0.8pt, line width=0.65pt},
}

\begin{document}
\begin{tikzpicture}
\path[use as bounding box] (0,0) rectangle (549pt,264.5pt);

\begin{axis}[matax, at={(23.35pt,147pt)}, anchor=south west,
  height=95.85pt, ymin=-5, ymax=10, ytick={-5,0,5,10},
  title={Transformed and Standardised Data}]
\addplot[mB, dotline] table[x expr=\coordindex, y index=0]{\sA};
\addplot[mO, dotline] table[x expr=\coordindex, y index=0]{\sB};
\addplot[mY, dotline] table[x expr=\coordindex, y index=0]{\sC};
\addplot[mP, dotline] table[x expr=\coordindex, y index=0]{\sD};
\addplot[mG, dotline] table[x expr=\coordindex, y index=0]{\sE};
\addplot[mL, dotline] table[x expr=\coordindex, y index=0]{\sF};
\addplot[mR, dotline] table[x expr=\coordindex, y index=0]{\sG};
\addplot[mB, dotline] table[x expr=\coordindex, y index=0]{\sH};
\addplot[mO, dotline] table[x expr=\coordindex, y index=0]{\sI};
\addplot[mY, dotline] table[x expr=\coordindex, y index=0]{\sJ};
\addplot[mP, dotline] table[x expr=\coordindex, y index=0]{\sK};
\addplot[mG, dotline] table[x expr=\coordindex, y index=0]{\sL};
\addplot[mL, dotline] table[x expr=\coordindex, y index=0]{\sM};
\addplot[mR, dotline] table[x expr=\coordindex, y index=0]{\sN};
\addplot[mB, dotline] table[x expr=\coordindex, y index=0]{\sO};
\addplot[mR, dotline] table[x expr=\coordindex, y index=0]{\sP};
\addplot[mY, dotline] table[x expr=\coordindex, y index=0]{\sQ};
\addplot[mG, dotline] table[x expr=\coordindex, y index=0]{\sR};
\end{axis}

\begin{axis}[matax, at={(23.35pt,14.5pt)}, anchor=south west,
  height=95.35pt, ymin=-10, ymax=10, ytick={-10,-5,0,5,10},
  title={Factors},
  legend columns=4,
  legend style={draw=none, fill=none, at={(1,1)}, anchor=north east,
    inner sep=0pt, nodes={inner sep=0.5pt, text depth=0.15em},
    xshift=-0.5pt, yshift=-7.5pt,
    font=\fontsize{11.3}{13}\selectfont,
    /tikz/every even column/.append style={column sep=2.5pt}},
  legend image code/.code={\draw[mark repeat=2,mark phase=2,#1] plot coordinates {(0pt,0pt) (7.5pt,0pt) (15pt,0pt)};},
  ]
\addplot[mB, line width=1.2pt, mark=*, mark size=1.8pt] table[x expr=\coordindex, y=G]{\fac};
\addplot[mO, line width=1.0pt, mark=asterisk, mark size=1.3pt, mark options={line width=0.6pt}] table[x expr=\coordindex, y=R]{\fac};
\addplot[mY, line width=1.2pt, mark=square*, mark size=1.6pt] table[x expr=\coordindex, y=F]{\fac};
\addplot[mP, line width=1.2pt, mark=diamond*, mark size=2.1pt] table[x expr=\coordindex, y=L]{\fac};
\legend{Global,Real,Financial,Labour}
\end{axis}
\end{tikzpicture}
\end{document}
